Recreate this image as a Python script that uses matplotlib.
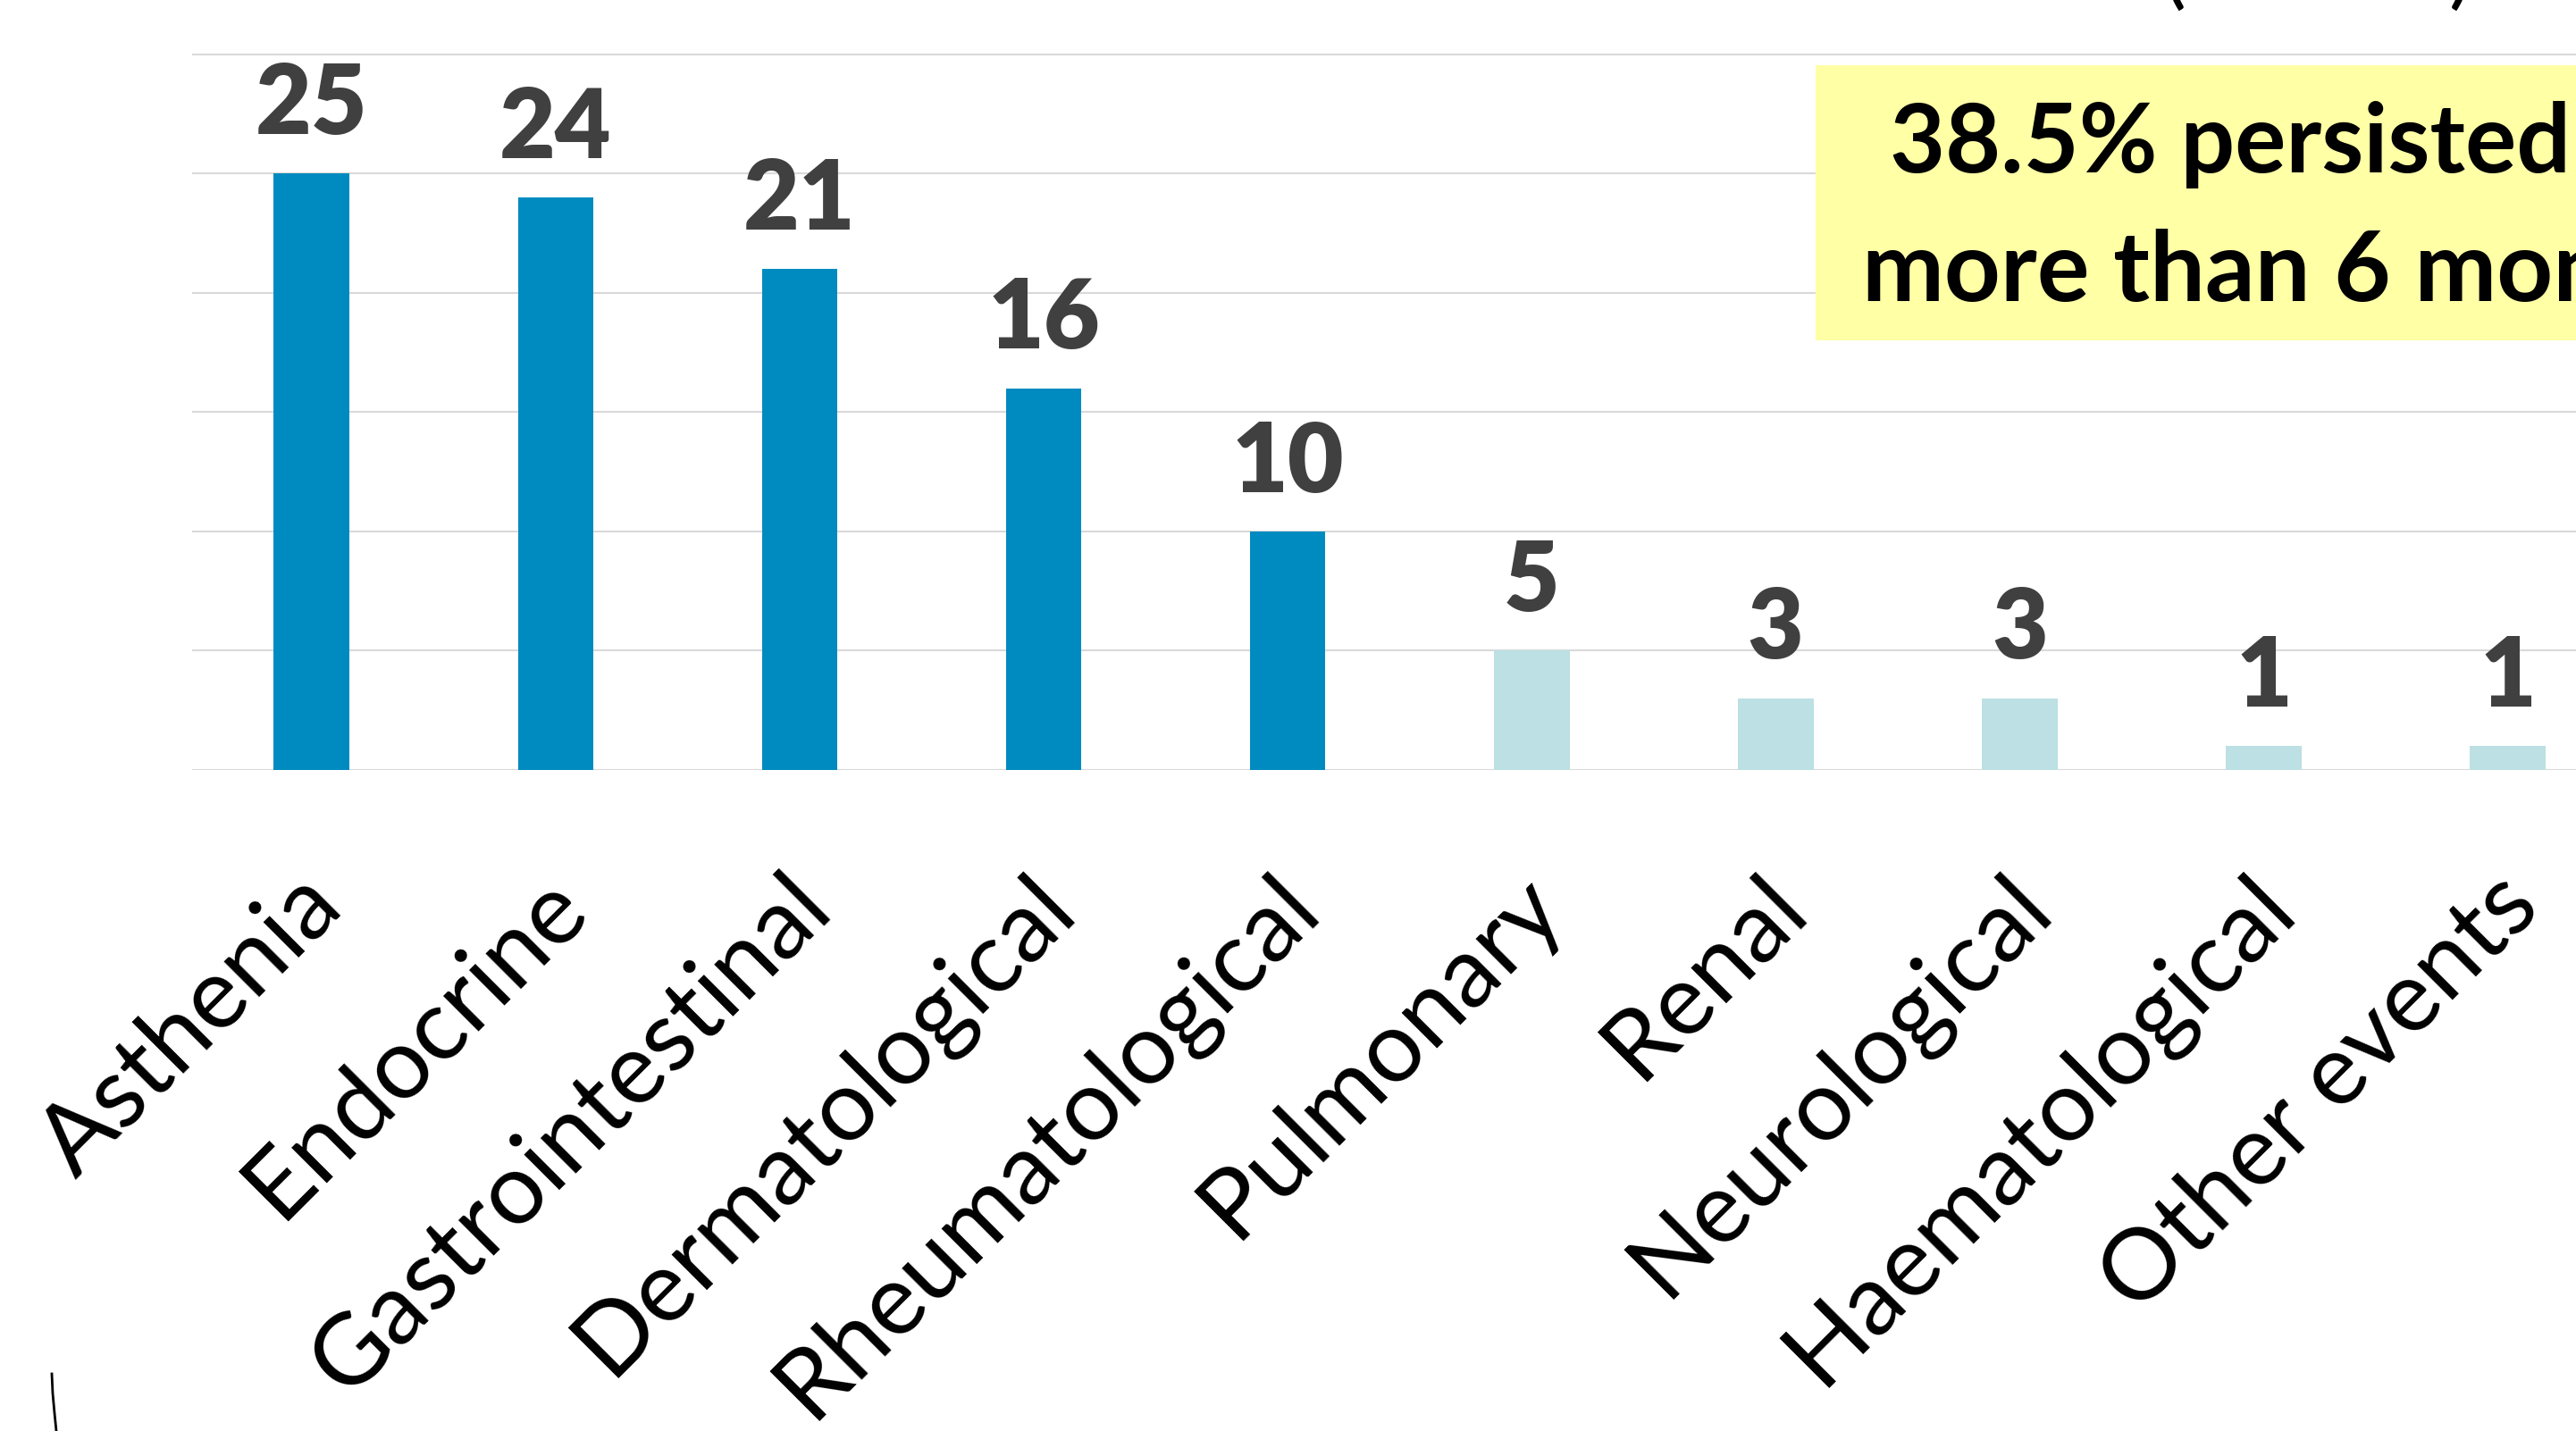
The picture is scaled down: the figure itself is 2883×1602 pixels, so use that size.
import matplotlib.pyplot as plt
from matplotlib.patches import Rectangle
from matplotlib.lines import Line2D
from matplotlib.transforms import ScaledTranslation

# data
categories = ['Asthenia', 'Endocrine', 'Gastrointestinal', 'Dermatological',
              'Rheumatological', 'Pulmonary', 'Renal', 'Neurological',
              'Haematological', 'Other events']
counts = [25, 24, 21, 16, 10, 5, 3, 3, 1, 1]
highlight = [True, True, True, True, True, False, False, False, False, False]
y_ticks = [0, 5, 10, 15, 20, 25, 30]

DARK = '#008BC0'
LIGHT = '#BCE0E3'
W, H, DPI = 2883, 1602, 100

plt.rcParams['font.family'] = ['Lato', 'DejaVu Sans']

fig = plt.figure(figsize=(W / DPI, H / DPI), dpi=DPI)
fig.patch.set_facecolor('white')

# axes placed so the plot area bleeds off the top and right edges like the crop
ax = fig.add_axes([215 / W, 1 - 862 / H, 1 - 215 / W, 862 / H])
ax.set_xlim(-0.49, 9.28)
ax.set_ylim(0, 32.28)

x = list(range(len(categories)))
colors = [DARK if h else LIGHT for h in highlight]
bars = ax.bar(x, counts, width=0.31, color=colors, zorder=3)

for b, v in zip(bars, counts):
    ax.annotate(str(v), (b.get_x() + b.get_width() / 2, v),
                xytext=(0, 32), textcoords='offset points',
                ha='center', va='baseline', fontsize=78,
                fontweight='heavy', color='#404040', zorder=4)

ax.set_yticks(y_ticks)
ax.yaxis.grid(True, color='#D9D9D9', linewidth=1.5, zorder=0)
ax.tick_params(axis='y', left=False, labelleft=False)
for s in ax.spines.values():
    s.set_visible(False)

ax.set_xticks(x)
ax.set_xticklabels(categories, rotation=45, ha='right', va='baseline',
                   rotation_mode='anchor', fontsize=80, color='black')
ax.tick_params(axis='x', length=0, pad=113)
shift = ScaledTranslation(39 / DPI, 0, fig.dpi_scale_trans)
for lab in ax.get_xticklabels():
    lab.set_transform(lab.get_transform() + shift)

# yellow call-out box, cut off at the right edge
fig.add_artist(Rectangle((2032 / W, 1 - 381 / H), 1.0, (381 - 73) / H,
                         transform=fig.transFigure, facecolor='#FFFFA6',
                         edgecolor='none', zorder=5))
fig.text(2115 / W, 1 - 193 / H, '38.5% persisted for', fontsize=77,
         fontweight='bold', color='black', va='baseline', ha='left', zorder=6)
fig.text(2084 / W, 1 - 337 / H, 'more than 6 months', fontsize=79,
         fontweight='bold', color='black', va='baseline', ha='left', zorder=6)

# bits of the title that peek in from above
fig.text(2434 / W, 1 - 15 / H, '(', fontsize=70, color='black',
         va='bottom', ha='center')
fig.text(2754 / W, 1 - 15 / H, ')', fontsize=70, color='black',
         va='bottom', ha='center')

# stray stroke at bottom-left
fig.add_artist(Line2D([58 / W, 59 / W, 61 / W, 63 / W],
                      [1 - 1538 / H, 1 - 1560 / H, 1 - 1582 / H, 0.0],
                      transform=fig.transFigure, color='black', linewidth=2))

fig.savefig('out.png', dpi=DPI)
